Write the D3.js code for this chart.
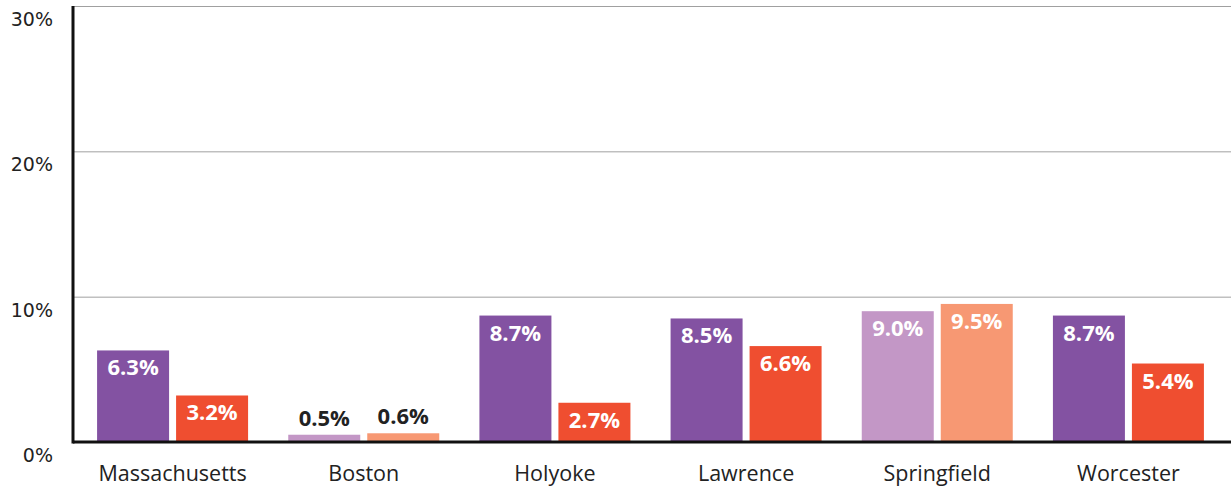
<!DOCTYPE html>
<html>
<head>
<meta charset="utf-8">
<script src="https://cdn.jsdelivr.net/npm/d3@7"></script>
<style>
  body { margin: 0; background: #fff; }
</style>
</head>
<body>
<div id="chart"></div>
<script>
const cities = ["Massachusetts", "Boston", "Holyoke", "Lawrence", "Springfield", "Worcester"];
const seriesA = [6.3, 0.5, 8.7, 8.5, 9.0, 8.7];
const seriesB = [3.2, 0.6, 2.7, 6.6, 9.5, 5.4];
const muted = ["Boston", "Springfield"];
const yTicks = [0, 10, 20, 30];

const width = 1231;
const height = 491;
const margin = { top: 6, right: 0, bottom: 49, left: 73 };

const svg = d3.select("#chart")
  .append("svg")
  .attr("width", width)
  .attr("height", height);

const y = d3.scaleLinear()
  .domain([0, 30])
  .range([height - margin.bottom, margin.top]);

const x = d3.scaleBand()
  .domain(cities)
  .range([77, 1224])
  .padding(0);

const barW = 72;
const gap = 7;

// gridlines
svg.append("g")
  .selectAll("line")
  .data(yTicks.filter((d) => d > 0))
  .enter()
  .append("line")
  .attr("x1", margin.left)
  .attr("x2", width)
  .attr("y1", (d) => y(d) + 0.5)
  .attr("y2", (d) => y(d) + 0.5)
  .attr("stroke", "#a0a0a0")
  .attr("stroke-width", 1);

// y tick labels sit just below their gridline
svg.append("g")
  .selectAll("text")
  .data(yTicks)
  .enter()
  .append("text")
  .attr("x", 53)
  .attr("y", (d) => y(d) + 20)
  .attr("text-anchor", "end")
  .attr("font-family", "DejaVu Sans")
  .attr("font-size", 19)
  .attr("fill", "#222")
  .text((d) => d + "%");

const rows = cities.map((c, i) => ({ city: c, a: seriesA[i], b: seriesB[i] }));

const groups = svg.append("g")
  .selectAll("g")
  .data(rows)
  .enter()
  .append("g")
  .attr("transform", (d) => `translate(${x(d.city) + x.bandwidth() / 2},0)`);

function addBar(sel, key, dx, color, light) {
  sel.append("rect")
    .attr("x", dx)
    .attr("y", (d) => y(d[key]))
    .attr("width", barW)
    .attr("height", (d) => y(0) - y(d[key]))
    .attr("fill", (d) => (muted.includes(d.city) ? light : color));

  sel.append("text")
    .attr("x", dx + barW / 2)
    .attr("y", (d) => (y(0) - y(d[key]) < 30 ? y(d[key]) - 9 : y(d[key]) + 25))
    .attr("text-anchor", "middle")
    .attr("font-family", "Open Sans")
    .attr("font-weight", "bold")
    .attr("font-size", 22)
    .attr("fill", (d) => (y(0) - y(d[key]) < 30 ? "#222" : "#fff"))
    .text((d) => d[key].toFixed(1) + "%");
}

addBar(groups, "a", -barW - gap / 2, "#8352a2", "#c397c6");
addBar(groups, "b", gap / 2, "#ef4e30", "#f79873");

// category labels
svg.append("g")
  .selectAll("text")
  .data(cities)
  .enter()
  .append("text")
  .attr("x", (d) => x(d) + x.bandwidth() / 2)
  .attr("y", 481)
  .attr("text-anchor", "middle")
  .attr("font-family", "Open Sans")
  .attr("font-size", 21.5)
  .attr("fill", "#222")
  .text((d) => d);

// axes lines
svg.append("line")
  .attr("x1", margin.left)
  .attr("x2", width)
  .attr("y1", y(0))
  .attr("y2", y(0))
  .attr("stroke", "#111")
  .attr("stroke-width", 3);

svg.append("line")
  .attr("x1", margin.left)
  .attr("x2", margin.left)
  .attr("y1", margin.top)
  .attr("y2", y(0) + 1.5)
  .attr("stroke", "#111")
  .attr("stroke-width", 3);
</script>
</body>
</html>
